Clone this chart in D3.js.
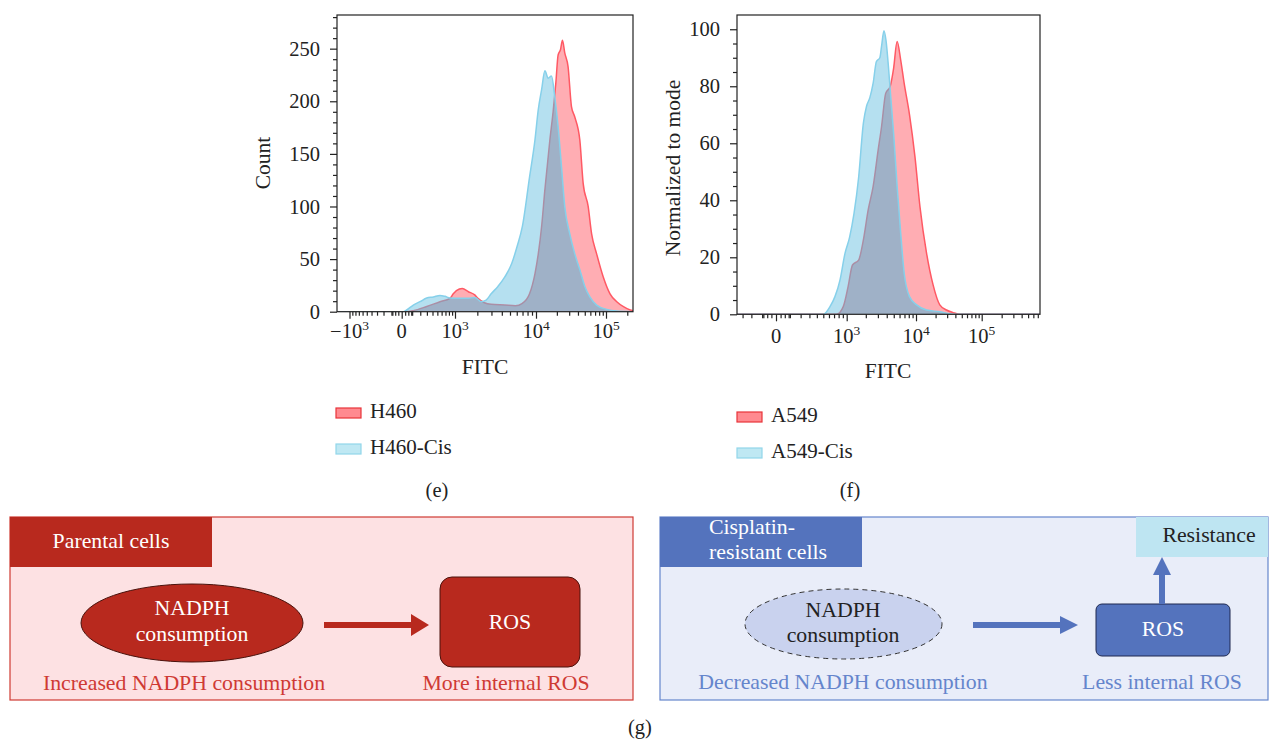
<!DOCTYPE html>
<html>
<head>
<meta charset="utf-8">
<script src="https://cdn.jsdelivr.net/npm/d3@7"></script>
<style>
  body { margin: 0; background: #fff; }
  svg text { font-family: "Liberation Serif", Tinos, Times, "DejaVu Serif", serif; }
</style>
</head>
<body>
<svg id="fig" width="1270" height="739"></svg>
<script>
// (e) H460 vs H460-Cis, FITC histogram (counts)
var h460X = [-2000, 40, 113, 297, 560, 832, 940, 1153, 1266, 1531, 1853, 2036, 2462, 2974, 4345, 5776, 6972, 8433, 9725,
  10790, 12060, 13450, 15850, 17660, 19310, 20840, 22530, 24040, 25940, 28910, 32330, 36060, 42530, 47440, 55860, 62520,
  73660, 91450, 114000, 142100, 176600, 220300, 262144];
var h460Y = [0, 0, 1, 5, 9.5, 12.7, 17, 21.5, 22, 19, 16, 12.7, 8.5, 7, 6.3, 5.7, 8, 17, 36,
  55, 81, 116, 163, 190, 217, 244, 249, 258, 246, 233, 195, 185, 163, 122, 100, 74,
  55, 33, 17, 9.5, 4.8, 1.6, 0.5];
var h460CisX = [-2000, 13.5, 44, 113, 196, 297, 415, 560, 687, 832, 1153, 1531, 1853, 2240, 2579, 2974, 3594, 4345, 5250,
  6052, 6972, 8433, 9725, 10790, 12060, 13450, 15000, 16750, 18680, 20840, 23290, 25940, 30600, 36060, 42530, 50120,
  59060, 73660, 102400, 142100, 262144];
var h460CisY = [0, 0, 1.6, 6.3, 9.5, 13, 14, 15.5, 14.6, 13, 12.7, 12.7, 13.6, 9.5, 11, 17, 24, 33, 46,
  62, 81, 128, 163, 192, 211, 229, 222, 224, 204, 176, 138, 100, 74, 55, 40, 24,
  14, 6.3, 2.2, 0.6, 0];

// (f) A549 vs A549-Cis, normalized to mode
var a549X = [-400, 755, 910, 1055, 1245, 1556, 1837, 2168, 2560, 3027, 3380, 3864, 4467, 4977, 5559, 6223, 6938, 8189,
  9681, 11510, 14560, 18320, 23180, 29330, 36990, 46770, 770000];
var a549Y = [0, 0, 2.7, 9.7, 17.3, 19, 26, 36.6, 44.8, 57.7, 65.8, 77.5, 80, 86.3, 95.7, 89.2, 81, 70,
  55.3, 37.8, 21.4, 10.3, 3.3, 1.5, 0.6, 0, 0];
var a549CisX = [-400, 500, 619, 719, 831, 955, 1116, 1318, 1556, 1837, 2051, 2295, 2560, 2858, 3198, 3380, 3656, 3908,
  4218, 4552, 4977, 5559, 6223, 6938, 8189, 10250, 14560, 23180, 32880, 41560, 770000];
var a549CisY = [0, 0, 2.7, 6.2, 12, 21.4, 27, 35.4, 48, 67, 73, 76, 81, 88.7, 90, 94, 99.5, 96,
  87, 76, 63.5, 45, 28.4, 14.4, 6.2, 3.3, 1.5, 0.9, 0.2, 0, 0];

// axis ticks
var fitcMajorE = [-1000, 0, 1000, 10000, 100000];
var fitcMajorF = [0, 1000, 10000, 100000];
var fitcLabels = {"-1000": ["\u221210", "3"], "0": ["0", ""], "1000": ["10", "3"], "10000": ["10", "4"], "100000": ["10", "5"]};
var decades = [10, 100, 1000, 10000, 100000];
var steps = [1, 2, 3, 4, 5, 6, 7, 8, 9];
var countMajor = [0, 50, 100, 150, 200, 250];
var countMinorStep = 10;
var modeMajor = [0, 20, 40, 60, 80, 100];
var modeMinorStep = 5;

var legendE = ["H460", "H460-Cis"];
var legendF = ["A549", "A549-Cis"];

// (g) schematic text
var parentalTitle = ["Parental cells"];
var resistantTitle = ["Cisplatin-", "resistant cells"];
var nodeText = ["NADPH", "consumption"];
var parentalCaptions = ["Increased NADPH consumption", "More internal ROS"];
var resistantCaptions = ["Decreased NADPH consumption", "Less internal ROS"];

var svg = d3.select("#fig");

// minor ticks: every step of each decade, sparser in the first one
var minorAll = [];
decades.forEach(function(d) {
  steps.forEach(function(s) {
    if (d === 10 && s % 3 !== 0) return;
    minorAll.push(s * d); minorAll.push(-s * d);
  });
});

function histPanel(p) {
  var g = svg.append("g");
  var bx = p.box;
  svg.append("clipPath").attr("id", p.id + "-clip").append("rect")
    .attr("x", bx[0]).attr("y", bx[1]).attr("width", bx[2] - bx[0]).attr("height", bx[3] - bx[1]);

  var area = d3.area().x(function(d) { return p.x(d[0]); })
    .y0(p.y(0)).y1(function(d) { return p.y(d[1]); }).curve(d3.curveMonotoneX);
  var line = d3.line().x(function(d) { return p.x(d[0]); })
    .y(function(d) { return p.y(d[1]); }).curve(d3.curveMonotoneX);

  var red = d3.zip(p.redX, p.redY);
  var blue = d3.zip(p.blueX, p.blueY);

  svg.append("clipPath").attr("id", p.id + "-red").append("path").attr("d", area(red));

  var plot = g.append("g").attr("clip-path", "url(#" + p.id + "-clip)");
  plot.append("path").attr("d", area(red)).attr("fill", "#ffadb3");
  plot.append("path").attr("d", line(red)).attr("fill", "none").attr("stroke", "#ff5964").attr("stroke-width", 1.5);
  plot.append("path").attr("d", area(blue)).attr("fill", "rgba(107,193,225,0.5)");
  plot.append("path").attr("d", area(blue)).attr("fill", "rgba(80,160,190,0.22)")
    .attr("clip-path", "url(#" + p.id + "-red)");
  plot.append("path").attr("d", line(blue)).attr("fill", "none").attr("stroke", "#86d0ea").attr("stroke-width", 1.5);

  // frame
  g.append("rect").attr("x", bx[0]).attr("y", bx[1]).attr("width", bx[2] - bx[0]).attr("height", bx[3] - bx[1])
    .attr("fill", "none").attr("stroke", "#222").attr("stroke-width", 1.2);

  // x axis
  var minor = minorAll.filter(function(v) {
    var px = p.x(v);
    return p.xMajor.indexOf(v) < 0 && px > bx[0] + 1 && px < bx[2] - 1;
  });
  var xMin = g.append("g").attr("transform", "translate(0," + bx[3] + ")")
    .call(d3.axisBottom(p.x).tickValues(minor).tickSize(4).tickFormat(""));
  var xMaj = g.append("g").attr("transform", "translate(0," + bx[3] + ")")
    .call(d3.axisBottom(p.x).tickValues(p.xMajor).tickSize(7).tickFormat(""));
  [xMin, xMaj].forEach(function(a) {
    a.select(".domain").remove();
    a.selectAll("line").attr("stroke", "#222").attr("stroke-width", 1.2);
  });
  p.xMajor.forEach(function(v) {
    var lab = fitcLabels[String(v)];
    var t = g.append("text").attr("x", p.x(v)).attr("y", p.xLabelY)
      .attr("text-anchor", "middle").attr("font-size", 20.5).attr("fill", "#222");
    t.append("tspan").text(lab[0]);
    if (lab[1]) t.append("tspan").attr("dy", -8).attr("font-size", 13.5).text(lab[1]);
  });

  // y axis
  var yTop = p.y.domain()[1];
  var yMinorVals = d3.range(0, yTop, p.yMinorStep).filter(function(v) { return p.yMajor.indexOf(v) < 0; });
  var yMin = g.append("g").attr("transform", "translate(" + bx[0] + ",0)")
    .call(d3.axisLeft(p.y).tickValues(yMinorVals).tickSize(4).tickFormat(""));
  var yMaj = g.append("g").attr("transform", "translate(" + bx[0] + ",0)")
    .call(d3.axisLeft(p.y).tickValues(p.yMajor).tickSize(7).tickPadding(10));
  [yMin, yMaj].forEach(function(a) {
    a.select(".domain").remove();
    a.attr("font-family", null);
    a.selectAll("line").attr("stroke", "#222").attr("stroke-width", 1.2);
  });
  yMaj.selectAll("text").attr("font-size", 20.5).attr("fill", "#222");

  // titles
  g.append("text").attr("x", p.xTitle[0]).attr("y", p.xTitle[1]).attr("text-anchor", "middle")
    .attr("font-size", 21.5).attr("fill", "#222").text("FITC");
  g.append("text").attr("transform", "translate(" + p.yTitle[0] + "," + p.yTitle[1] + ") rotate(-90)")
    .attr("text-anchor", "middle").attr("font-size", 21.5).attr("fill", "#222").text(p.yLabel);

  // legend
  var cols = [["#ff8a90", "#e8343a"], ["#bfe8f3", "#92d6ea"]];
  p.legend.forEach(function(name, i) {
    var ly = p.legendPos[1] + i * 36;
    g.append("rect").attr("x", p.legendPos[0]).attr("y", ly).attr("width", 25).attr("height", 10)
      .attr("fill", cols[i][0]).attr("stroke", cols[i][1]).attr("stroke-width", 1.2);
    g.append("text").attr("x", p.legendPos[0] + 34).attr("y", ly + 10).attr("font-size", 21)
      .attr("fill", "#222").text(name);
  });
  g.append("text").attr("x", p.tag[0]).attr("y", p.tag[1]).attr("text-anchor", "middle")
    .attr("font-size", 20.5).attr("fill", "#222").text(p.tagText);
}

histPanel({
  id: "pe",
  x: d3.scaleSymlog().constant(300).domain(fitcMajorE).range([349.5, 401.7, 455, 536, 606]),
  y: d3.scaleLinear().domain([0, 282]).range([311.7, 15]),
  box: [337, 15, 633, 311.7],
  redX: h460X, redY: h460Y, blueX: h460CisX, blueY: h460CisY,
  xMajor: fitcMajorE, xLabelY: 338,
  yMajor: countMajor, yMinorStep: countMinorStep,
  xTitle: [485, 374], yTitle: [270, 163], yLabel: "Count",
  legend: legendE, legendPos: [336, 408],
  tag: [437, 497], tagText: "(e)"
});

histPanel({
  id: "pf",
  x: d3.scaleSymlog().constant(300).domain(fitcMajorF).range([776, 846.7, 916, 981.7]),
  y: d3.scaleLinear().domain([0, 105]).range([314.3, 15]),
  box: [737, 15, 1040, 314.3],
  redX: a549X, redY: a549Y, blueX: a549CisX, blueY: a549CisY,
  xMajor: fitcMajorF, xLabelY: 343,
  yMajor: modeMajor, yMinorStep: modeMinorStep,
  xTitle: [888, 378], yTitle: [680, 168], yLabel: "Normalized to mode",
  legend: legendF, legendPos: [737, 412],
  tag: [850, 497], tagText: "(f)"
});

// (g) schematic
var red = "#b8291e", redLine = "#cf3a33", pink = "#fde1e3";
var blue = "#5473bd", blueLine = "#6585cc", lav = "#e9edf9";
var fs = 21.8;

var gl = svg.append("g");
gl.append("rect").attr("x", 10).attr("y", 517).attr("width", 623).attr("height", 183)
  .attr("fill", pink).attr("stroke", redLine).attr("stroke-width", 1.2);
gl.append("rect").attr("x", 10).attr("y", 517).attr("width", 202).attr("height", 50).attr("fill", red);
gl.append("text").attr("x", 111).attr("y", 548).attr("text-anchor", "middle").attr("font-size", fs)
  .attr("fill", "#fff").text(parentalTitle[0]);
gl.append("ellipse").attr("cx", 192).attr("cy", 623).attr("rx", 111).attr("ry", 39)
  .attr("fill", red).attr("stroke", "#4a120c").attr("stroke-width", 1);
nodeText.forEach(function(t, i) {
  gl.append("text").attr("x", 192).attr("y", 615 + i * 26).attr("text-anchor", "middle")
    .attr("font-size", fs).attr("fill", "#fff").text(t);
});
gl.append("path").attr("d", "M324,622H411V614L429,625L411,636V628H324Z").attr("fill", red);
gl.append("rect").attr("x", 440).attr("y", 577).attr("width", 140).attr("height", 90).attr("rx", 12)
  .attr("fill", red).attr("stroke", "#4a120c").attr("stroke-width", 1);
gl.append("text").attr("x", 510).attr("y", 629).attr("text-anchor", "middle").attr("font-size", fs)
  .attr("fill", "#fff").text("ROS");
gl.append("text").attr("x", 184).attr("y", 690).attr("text-anchor", "middle").attr("font-size", fs)
  .attr("fill", redLine).text(parentalCaptions[0]);
gl.append("text").attr("x", 506).attr("y", 690).attr("text-anchor", "middle").attr("font-size", fs)
  .attr("fill", redLine).text(parentalCaptions[1]);

var gr = svg.append("g");
gr.append("rect").attr("x", 660).attr("y", 517).attr("width", 608).attr("height", 183)
  .attr("fill", lav).attr("stroke", blueLine).attr("stroke-width", 1.2);
gr.append("rect").attr("x", 660).attr("y", 517).attr("width", 202).attr("height", 50).attr("fill", blue);
resistantTitle.forEach(function(t, i) {
  gr.append("text").attr("x", 709).attr("y", 534 + i * 25).attr("font-size", fs)
    .attr("fill", "#fff").text(t);
});
gr.append("rect").attr("x", 1136).attr("y", 517).attr("width", 132).attr("height", 40).attr("fill", "#bee5f2");
gr.append("text").attr("x", 1209).attr("y", 542).attr("text-anchor", "middle").attr("font-size", fs)
  .attr("fill", "#222").text("Resistance");
gr.append("ellipse").attr("cx", 843.5).attr("cy", 624).attr("rx", 98.5).attr("ry", 35)
  .attr("fill", "#c9d2ee").attr("stroke", "#333").attr("stroke-width", 1).attr("stroke-dasharray", "5,4");
nodeText.forEach(function(t, i) {
  gr.append("text").attr("x", 843).attr("y", 617 + i * 25).attr("text-anchor", "middle")
    .attr("font-size", fs).attr("fill", "#222").text(t);
});
gr.append("path").attr("d", "M973,622H1060V616L1078,625L1060,634V628H973Z").attr("fill", blue);
gr.append("rect").attr("x", 1096).attr("y", 604).attr("width", 134).attr("height", 52).attr("rx", 6)
  .attr("fill", blue).attr("stroke", "#1e2850").attr("stroke-width", 1);
gr.append("text").attr("x", 1163).attr("y", 636).attr("text-anchor", "middle").attr("font-size", fs)
  .attr("fill", "#fff").text("ROS");
gr.append("path").attr("d", "M1159,604V575H1153L1162,557L1171,575H1165V604Z").attr("fill", blue);
gr.append("text").attr("x", 843).attr("y", 689).attr("text-anchor", "middle").attr("font-size", fs)
  .attr("fill", blueLine).text(resistantCaptions[0]);
gr.append("text").attr("x", 1162).attr("y", 689).attr("text-anchor", "middle").attr("font-size", fs)
  .attr("fill", blueLine).text(resistantCaptions[1]);

svg.append("text").attr("x", 640).attr("y", 734).attr("text-anchor", "middle").attr("font-size", 20.5)
  .attr("fill", "#222").text("(g)");
</script>
</body>
</html>
